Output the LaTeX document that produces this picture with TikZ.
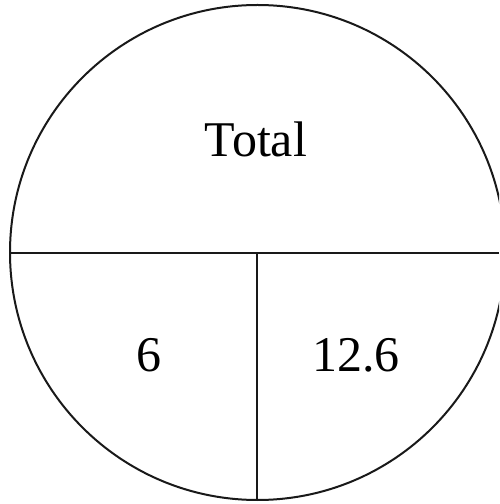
\documentclass[tikz,border=0pt]{standalone}
\usepackage{fontspec}
\setmainfont{Liberation Serif}
\begin{document}
\begin{tikzpicture}[x=1pt,y=1pt,
  lbl/.style={anchor=base,inner sep=0pt,font=\fontsize{50}{60}\selectfont},
  ln/.style={line width=2pt,black!90}]
\useasboundingbox (0,0) rectangle (499,504);
\begin{scope}
\clip (0,0) rectangle (499,504);
\draw[ln] (257.5,251.5) circle (247.5);
\end{scope}
\coordinate (L) at (10,251);
\coordinate (R) at (499,251);
\coordinate (M) at (257,251);
\coordinate (B) at (257,4);
\draw[ln] (L) -- (R);
\draw[ln] (M) -- (B);
\node[lbl] (total) at (256,347) {Total};
\node[lbl] (six) at (149,132) {6};
\node[lbl] (twelve) at (356,132) {12.6};
\end{tikzpicture}
\end{document}
